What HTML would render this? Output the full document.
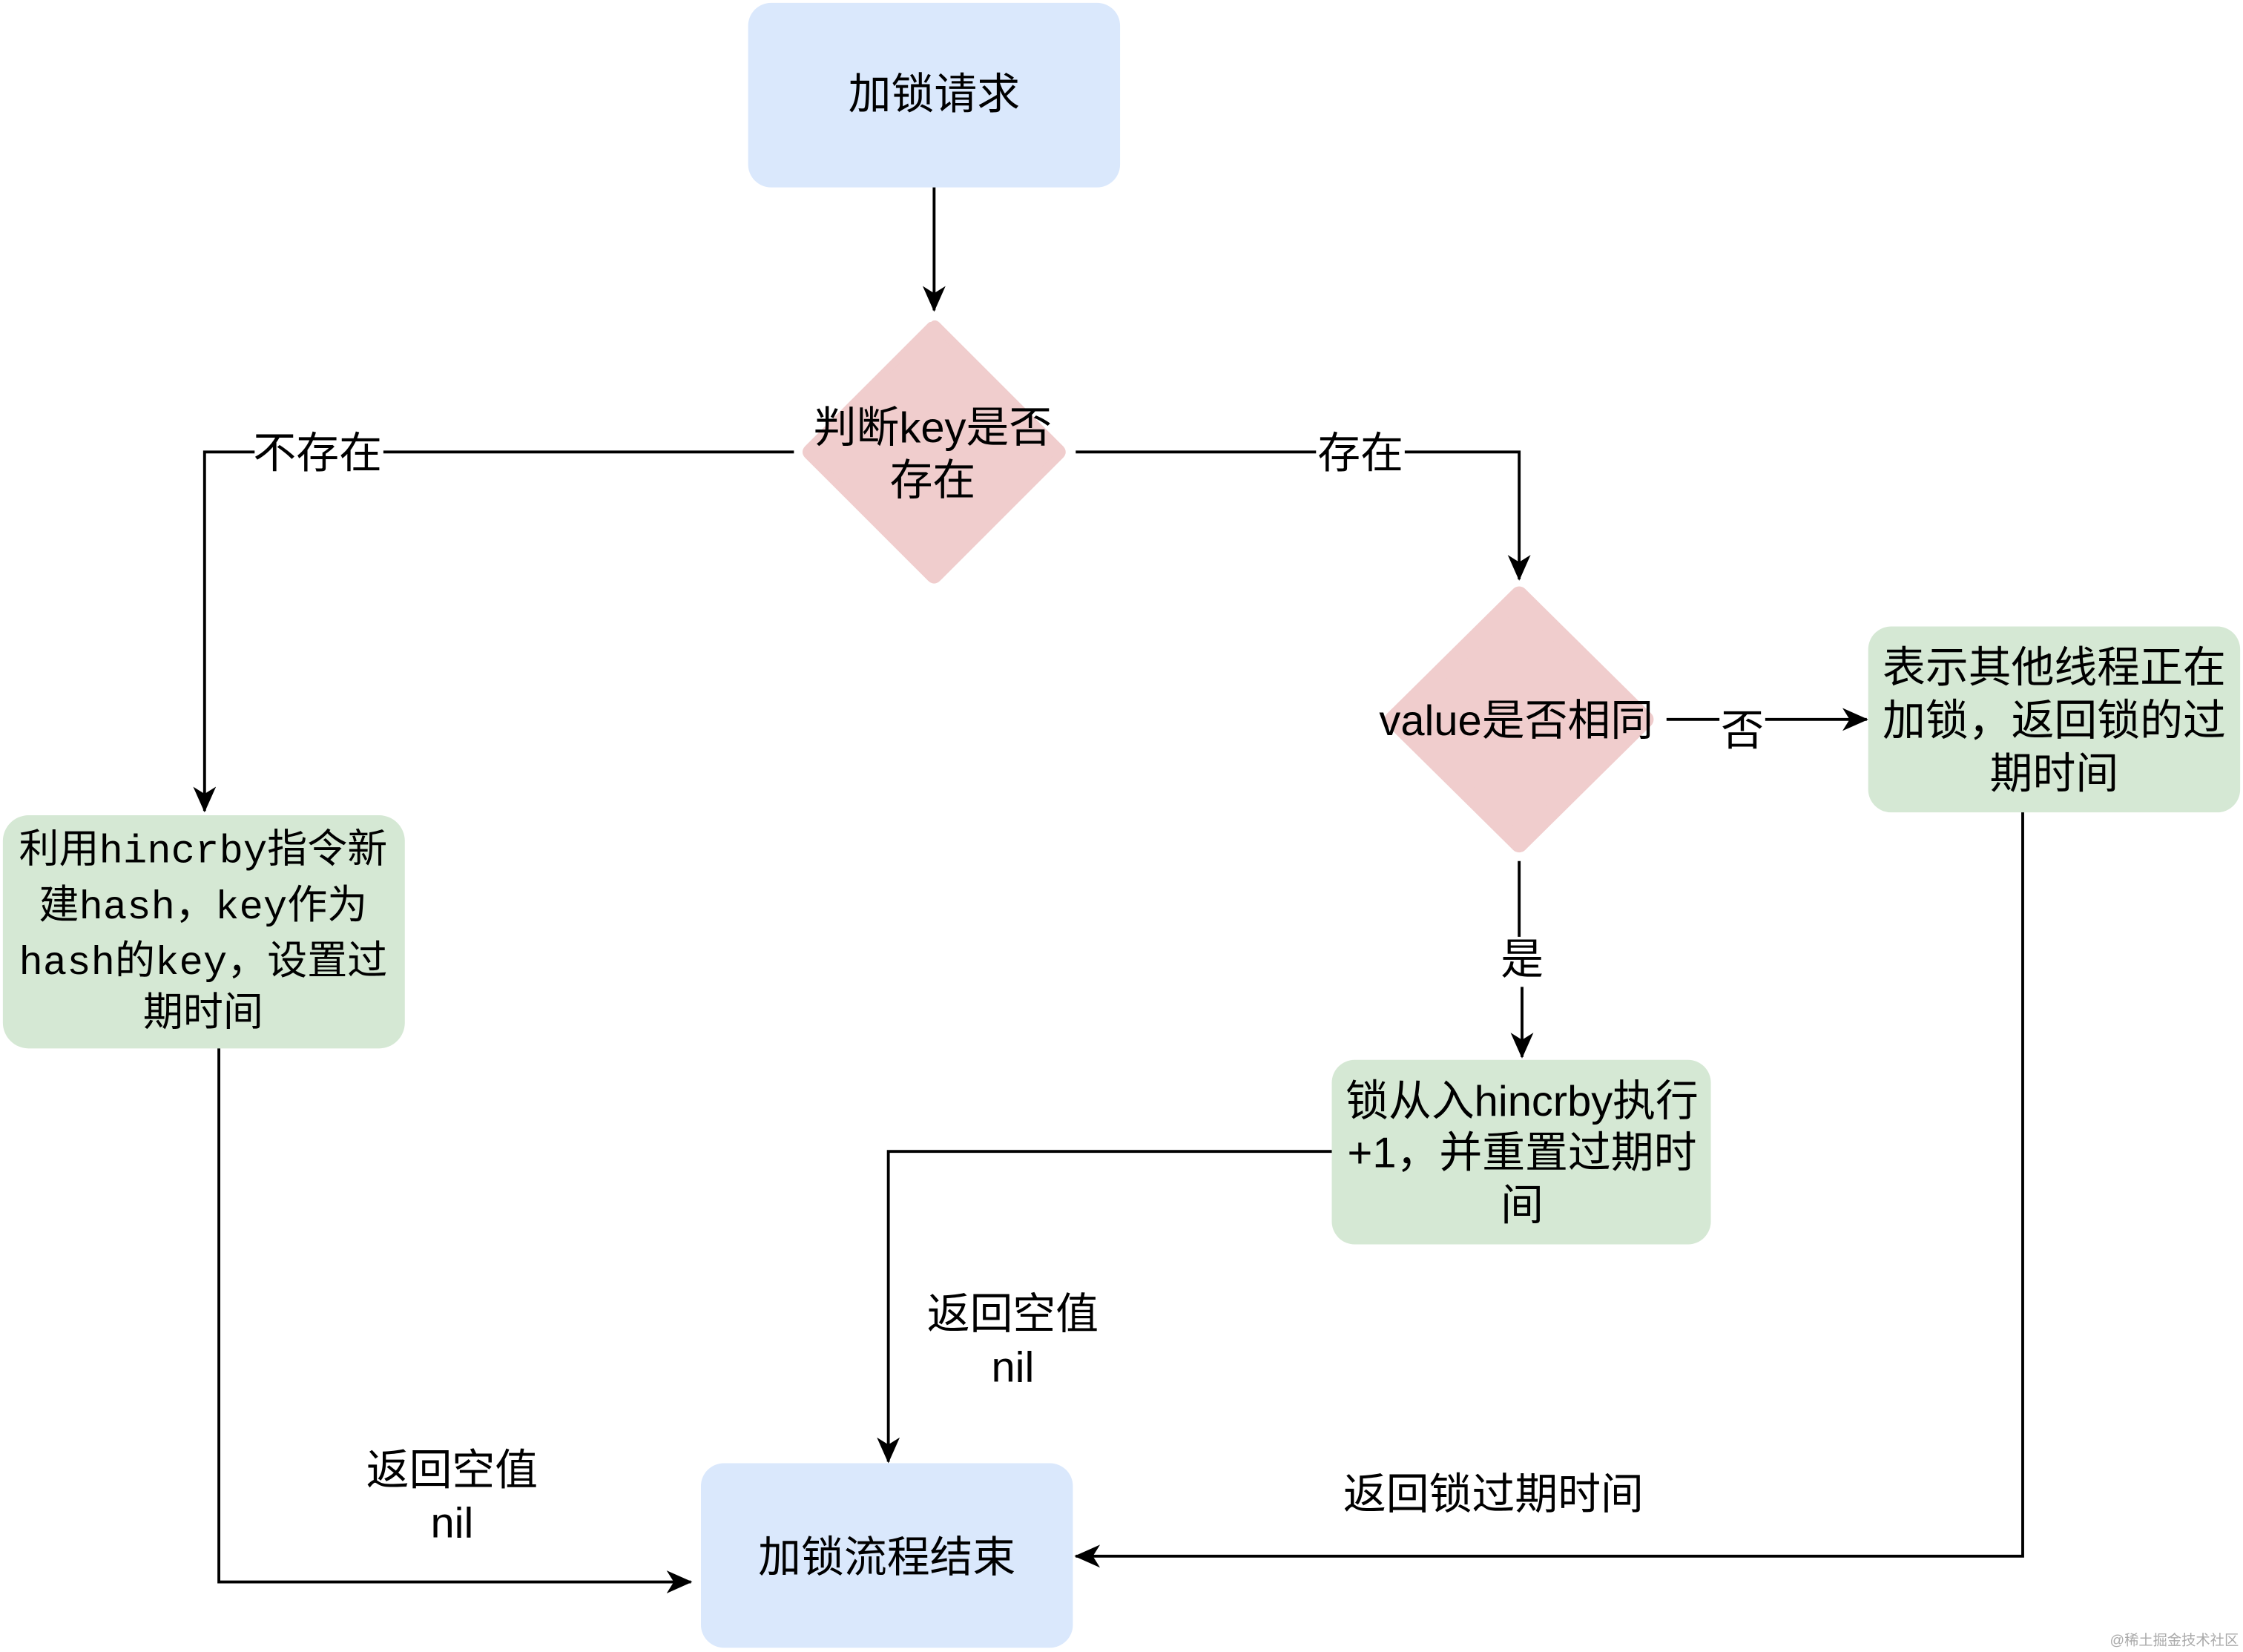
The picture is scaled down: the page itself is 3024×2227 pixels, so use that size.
<!DOCTYPE html>
<html><head><meta charset="utf-8">
<style>
html,body{margin:0;padding:0;background:#fff;}
svg{display:block;}
text{font-family:"Liberation Sans","Noto Sans CJK SC",sans-serif;fill:#000;}
.m{font-family:"Liberation Mono","Noto Sans CJK SC",monospace;}
</style></head>
<body>
<svg width="3024" height="2227" viewBox="0 0 1568 1155" preserveAspectRatio="none" xmlns="http://www.w3.org/2000/svg">
<defs>
<marker id="a" markerWidth="18" markerHeight="16" refX="17" refY="8" orient="auto" markerUnits="userSpaceOnUse">
<path d="M0,0 L18,8 L0,16 L5,8 Z" fill="#000"/>
</marker>
</defs>
<rect width="1568" height="1155" fill="#fff"/>
<rect x="523" y="2" width="260" height="129" rx="16" fill="#dae8fc"/>
<path d="M653,228 Q653,226 655,228 L741,314 Q743,316 741,318 L655,404 Q653,406 651,404 L565,318 Q563,316 565,314 L651,228 Z" fill="#f0cdcd" stroke="#f0cdcd" stroke-width="6" stroke-linejoin="round"/>
<path d="M1062,416 L1150,503 L1062,590 L974,503 Z" fill="#f0cdcd" stroke="#f0cdcd" stroke-width="12" stroke-linejoin="round"/>
<rect x="1306" y="438" width="260" height="130" rx="16" fill="#d5e8d4"/>
<rect x="931" y="741" width="265" height="129" rx="16" fill="#d5e8d4"/>
<rect x="2" y="570" width="281" height="163" rx="18" fill="#d5e8d4"/>
<rect x="490" y="1023" width="260" height="129" rx="16" fill="#dae8fc"/>
<g stroke="#000" stroke-width="2" fill="none">
<path d="M653,131 V217" marker-end="url(#a)"/>
<path d="M555,316 H143 V567" marker-end="url(#a)"/>
<path d="M752,316 H1062 V405" marker-end="url(#a)"/>
<path d="M1165,503 H1305" marker-end="url(#a)"/>
<path d="M1062,602 V655"/>
<path d="M1064,690 V739" marker-end="url(#a)"/>
<path d="M931,805 H621 V1022" marker-end="url(#a)"/>
<path d="M153,733 V1106 H483" marker-end="url(#a)"/>
<path d="M1414,568 V1088 H752" marker-end="url(#a)"/>
</g>
<rect x="178" y="300" width="90" height="32" fill="#fff"/>
<rect x="920" y="300" width="62" height="32" fill="#fff"/>
<rect x="1202" y="488" width="32" height="36" fill="#fff"/>
<g font-size="30" text-anchor="middle">
<text x="653" y="76">加锁请求</text>
<text x="652" y="309">判断key是否</text>
<text x="652" y="346">存在</text>
<text x="222" y="327">不存在</text>
<text x="951" y="327">存在</text>
<text x="1060" y="514">value是否相同</text>
<text x="1218" y="521">否</text>
<text x="1436" y="477">表示其他线程正在</text>
<text x="1436" y="514">加锁，返回锁的过</text>
<text x="1436" y="551">期时间</text>
<text x="1064" y="681">是</text>
<text x="1064" y="780">锁从入hincrby执行</text>
<text x="1064" y="816">+1，并重置过期时</text>
<text x="1064" y="853">间</text>
<text x="708" y="929">返回空值</text>
<text x="708" y="966">nil</text>
<text x="316" y="1038">返回空值</text>
<text x="316" y="1075">nil</text>
<text x="1044" y="1055">返回锁过期时间</text>
<text x="620" y="1099">加锁流程结束</text>
</g>
<g font-size="28" text-anchor="middle">
<text x="142" y="603"><tspan>利用</tspan><tspan class="m">hincrby</tspan><tspan>指令新</tspan></text>
<text x="142" y="642"><tspan>建</tspan><tspan class="m">hash，key</tspan><tspan>作为</tspan></text>
<text x="142" y="681"><tspan class="m">hash</tspan><tspan>的</tspan><tspan class="m">key，</tspan><tspan>设置过</tspan></text>
<text x="142" y="717">期时间</text>
</g>
<text x="1565" y="1150" font-size="10" text-anchor="end" style="fill:#aaa">@稀土掘金技术社区</text>
</svg>
</body></html>
